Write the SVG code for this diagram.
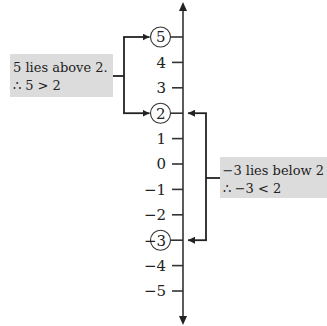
<svg xmlns="http://www.w3.org/2000/svg" width="327" height="326" viewBox="0 0 327 326">
<defs>
<marker id="ah" viewBox="0 0 10 10" refX="10" refY="5" markerWidth="7" markerHeight="7" markerUnits="userSpaceOnUse" orient="auto"><path d="M0,0 L10,5 L0,10 z" fill="#222"/></marker>
<style>
.t{font-family:"DejaVu Serif","Liberation Serif",serif;font-size:13px;fill:#222}
.n{font-family:"DejaVu Serif","Liberation Serif",serif;font-size:15px;fill:#222;text-anchor:end}
.tick{stroke:#333;stroke-width:1.6}
.c{fill:none;stroke:#333;stroke-width:1.1}
.con{fill:none;stroke:#222;stroke-width:1.8}
.box{fill:#dcdcdc}
</style>
</defs>
<rect width="327" height="326" fill="#fff"/>
<g id="axis">
<line x1="183" y1="8" x2="183" y2="319" stroke="#333" stroke-width="1.6"/>
<path d="M183,2 L179,11 L187,11 z" fill="#222"/>
<path d="M183,325 L179,316 L187,316 z" fill="#222"/>
</g>
<g id="ticks">
<line class="tick" x1="171" y1="37" x2="183" y2="37"/>
<line class="tick" x1="172" y1="62.4" x2="183" y2="62.4"/>
<line class="tick" x1="172" y1="87.8" x2="183" y2="87.8"/>
<line class="tick" x1="171" y1="113.2" x2="183" y2="113.2"/>
<line class="tick" x1="172" y1="138.6" x2="183" y2="138.6"/>
<line class="tick" x1="172" y1="164" x2="183" y2="164"/>
<line class="tick" x1="172" y1="189.4" x2="183" y2="189.4"/>
<line class="tick" x1="172" y1="214.8" x2="183" y2="214.8"/>
<line class="tick" x1="171" y1="240.2" x2="183" y2="240.2"/>
<line class="tick" x1="172" y1="265.6" x2="183" y2="265.6"/>
<line class="tick" x1="172" y1="291" x2="183" y2="291"/>
</g>
<g id="labels">
<circle class="c" cx="160.5" cy="37" r="10"/>
<text class="n" x="165.5" y="42.3">5</text>
<text class="n" x="166" y="67.7">4</text>
<text class="n" x="166" y="93.1">3</text>
<circle class="c" cx="160.5" cy="113.2" r="10"/>
<text class="n" x="165.5" y="118.5">2</text>
<text class="n" x="166" y="143.9">1</text>
<text class="n" x="166" y="169.3">0</text>
<text class="n" x="166" y="194.7">−1</text>
<text class="n" x="166" y="220.1">−2</text>
<circle class="c" cx="160.5" cy="240.2" r="10"/>
<text class="n" x="166" y="245.5">−3</text>
<text class="n" x="166" y="270.9">−4</text>
<text class="n" x="166" y="296.3">−5</text>
</g>
<g id="note-left">
<rect class="box" x="10" y="54" width="103" height="43"/>
<text class="t" x="13" y="72">5 lies above 2.</text>
<text class="t" x="13" y="90">∴ 5 &gt; 2</text>
</g>
<g id="note-right">
<rect class="box" x="220" y="157" width="107" height="41"/>
<text class="t" x="222.5" y="175">−3 lies below 2</text>
<text class="t" x="222.5" y="193">∴ −3 &lt; 2</text>
</g>
<g id="connectors">
<path class="con" d="M113,76 H124"/>
<path class="con" d="M124,37 V113.2"/>
<path class="con" d="M123.1,37 H149.5" marker-end="url(#ah)"/>
<path class="con" d="M123.1,113.2 H149.5" marker-end="url(#ah)"/>
<path class="con" d="M220,178 H206"/>
<path class="con" d="M206,113.2 V240.2"/>
<path class="con" d="M206.9,113.2 H188" marker-end="url(#ah)"/>
<path class="con" d="M206.9,240.2 H188" marker-end="url(#ah)"/>
</g>
</svg>
